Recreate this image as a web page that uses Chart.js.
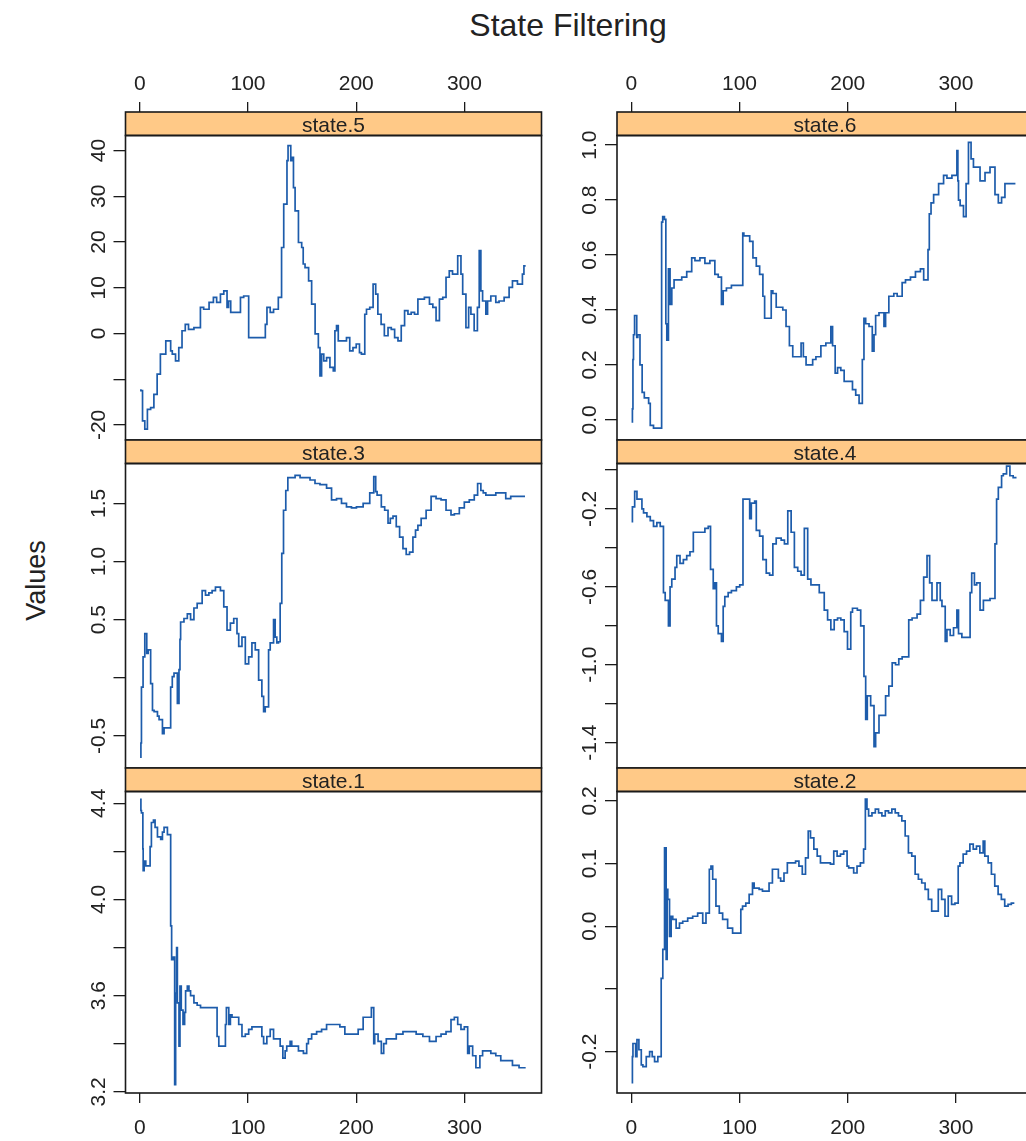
<!DOCTYPE html>
<html>
<head>
<meta charset="utf-8">
<title>State Filtering</title>
<script src="https://cdn.jsdelivr.net/npm/chart.js@4.4.1/dist/chart.umd.min.js"></script>
<style>
  html, body { margin: 0; padding: 0; background: #fff; overflow: hidden; }
  #page { position: relative; width: 1026px; height: 1141px; overflow: hidden; background: #fff;
          font-family: 'Liberation Sans', Arial, sans-serif; color: #222; }
  #page canvas { position: absolute; left: 0; top: 0; }
  #mainTitle { position: absolute; left: 368px; top: 9px; width: 400px; text-align: center;
               font-size: 32px; line-height: 32px; white-space: nowrap; }
  #yTitle { position: absolute; left: -64px; top: 567px; width: 200px; height: 27px; text-align: center;
            font-size: 27px; line-height: 27px; transform: rotate(-90deg); white-space: nowrap; }
</style>
</head>
<body>
<div id="page">
  <div id="mainTitle">State Filtering</div>
  <div id="yTitle">Values</div>
</div>
<script>
// ---- filtered state trajectories: [time index, value] ----
const state5 = [[1,-12.2],[2.5,-12.5],[4.6,-19.1],[7,-20.9],[10,-16.6],[13,-16.2],[16,-13.3],[19,-8.9],[24,-4.5],[28.5,-1.6],[30,-3.8],[33,-4.5],[36,-6.0],[39,-3.1],[42,0.6],[45,2.0],[50,0.9],[56,1.3],[59,5.7],[64,5.3],[68,6.8],[71,7.9],[74.5,6.8],[77.6,8.6],[80.6,9.3],[82,5.7],[84,7.1],[88,4.6],[93,4.6],[96,7.9],[100.6,8.2],[103.6,-0.9],[111,-0.9],[116,-0.9],[117.5,2.0],[120.5,5.7],[123.6,4.6],[128,5.3],[131,7.9],[133,18.8],[136,28.3],[137,37.8],[139.5,41.1],[140.4,37.8],[142,38.5],[143.5,31.9],[146.6,26.8],[149.6,19.9],[151,18.8],[152.7,15.2],[156,14.4],[158.8,11.5],[162,6.4],[165,-0.1],[166.5,-3.1],[168,-9.3],[170,-4.5],[172.6,-6.0],[175.7,-5.3],[178.8,-7.4],[180.3,-8.2],[181.8,0.6],[183.4,1.7],[186.4,-1.6],[191,-1.6],[194,-0.9],[197,-3.8],[200,-3.1],[203,-2.3],[204.8,-4.2],[207.9,-4.5],[209.5,4.2],[212.5,5.3],[215.6,5.7],[218,10.8],[220,8.6],[223,4.2],[226,2.0],[229.4,-0.5],[232.4,1.3],[235.5,0.9],[238.6,-0.9],[241.6,-1.6],[244.7,1.7],[247.8,5.0],[250.8,4.2],[253.9,4.6],[257,4.2],[260,7.5],[263,7.5],[267.7,7.9],[270.8,6.4],[273.8,5.7],[276.9,2.8],[280,7.5],[283,7.9],[286,12.3],[289,13.7],[293.8,13.0],[296.8,17.0],[298.4,13.0],[301.4,8.6],[303.9,1.3],[306,5.7],[309,4.2],[312,0.6],[313.7,5.7],[315.2,18.1],[316.8,9.3],[319.8,7.1],[321.4,4.2],[324.4,7.1],[329,8.2],[332,6.8],[336.7,7.1],[341.3,7.9],[344.4,10.1],[349,11.5],[353.6,10.8],[355,13.0],[356.6,14.8]];

const state6 = [[1,-0.01],[1.5,0.04],[2,0.22],[3,0.31],[5,0.38],[6,0.30],[8,0.31],[10,0.20],[12,0.10],[16,0.08],[17.5,0.06],[20.5,-0.02],[28,-0.03],[29,0.72],[30.6,0.74],[31.9,0.73],[32.8,0.35],[34.3,0.29],[35.8,0.55],[37.4,0.42],[39.5,0.48],[42,0.51],[46.6,0.51],[51.2,0.52],[55.8,0.54],[58.8,0.59],[63.4,0.58],[68,0.59],[72.6,0.57],[77.2,0.58],[80.3,0.53],[83.3,0.52],[84.9,0.42],[87.9,0.47],[92.5,0.48],[97.1,0.49],[103,0.49],[104,0.68],[109.4,0.67],[112.4,0.65],[115.5,0.59],[118.6,0.56],[121.6,0.53],[123.2,0.45],[126.2,0.37],[129.3,0.37],[130.8,0.47],[133.9,0.46],[135.4,0.41],[140,0.41],[143,0.40],[146.1,0.34],[149.2,0.27],[153.8,0.23],[156.9,0.23],[159,0.28],[161.5,0.23],[164.5,0.20],[167.6,0.20],[170.6,0.22],[175.2,0.23],[179.8,0.27],[184.4,0.28],[186,0.34],[188.4,0.27],[190.6,0.17],[193.6,0.19],[196.7,0.18],[199.8,0.14],[204.4,0.14],[207.4,0.11],[210.5,0.09],[213.5,0.06],[215,0.22],[216.6,0.37],[219.7,0.35],[222.7,0.34],[224.3,0.25],[225.8,0.31],[228.9,0.38],[233.5,0.39],[235,0.34],[238,0.39],[242.6,0.45],[245.7,0.46],[250.3,0.45],[253.4,0.50],[258,0.51],[262.6,0.52],[267.2,0.54],[270.2,0.55],[274.2,0.51],[275.4,0.62],[277,0.75],[279.4,0.79],[284,0.82],[288.6,0.86],[291.7,0.89],[296.3,0.88],[300.9,0.89],[301.8,0.98],[302.4,0.87],[303.9,0.80],[307,0.78],[309.4,0.74],[311.6,0.86],[314,1.01],[316.2,0.95],[319.2,0.92],[322.3,0.92],[326.9,0.87],[331.5,0.90],[336.1,0.92],[339.2,0.82],[342.2,0.79],[345.3,0.81],[351.4,0.86],[355,0.86]];

const state3 = [[1,-0.69],[1.5,-0.56],[3,-0.08],[4.6,0.18],[6.4,0.38],[7.7,0.21],[10,0.24],[11.7,-0.05],[13.2,-0.28],[16.3,-0.29],[17.8,-0.33],[20.9,-0.36],[22.4,-0.48],[23.9,-0.43],[28.5,-0.43],[30,-0.08],[31.6,0.01],[34.7,0.04],[36.2,-0.22],[37.1,0.07],[37.7,0.33],[40.8,0.48],[43.9,0.51],[46.9,0.55],[50,0.50],[53,0.60],[57.6,0.64],[60.7,0.75],[63.8,0.71],[66.8,0.73],[69.9,0.75],[74.5,0.78],[77.6,0.75],[80.6,0.61],[83.7,0.41],[86.8,0.47],[89.8,0.51],[91.4,0.38],[94.4,0.27],[97.5,0.35],[100.6,0.12],[103.6,0.18],[106.7,0.30],[109.8,0.24],[112.8,-0.02],[114.4,-0.16],[115.9,-0.29],[119,-0.25],[120.5,0.24],[123.6,0.30],[125.1,0.50],[126.6,0.35],[128.2,0.30],[129.7,0.31],[131.2,0.64],[132.8,1.07],[134.9,1.44],[136.8,1.61],[138.9,1.72],[143.5,1.72],[148.1,1.74],[152.7,1.72],[157.3,1.72],[161.9,1.70],[166.5,1.67],[172.6,1.66],[177.2,1.63],[181.8,1.53],[186.4,1.54],[191,1.50],[195.6,1.47],[200.2,1.46],[206.4,1.47],[212.5,1.50],[216.2,1.59],[218,1.73],[219.3,1.60],[223.2,1.57],[226.3,1.47],[229.4,1.44],[231.5,1.33],[234,1.37],[237,1.39],[240.1,1.30],[243.2,1.21],[246.2,1.11],[249.3,1.06],[252.4,1.08],[254.8,1.21],[257,1.27],[260,1.31],[264.6,1.37],[269.2,1.44],[273.8,1.56],[278.4,1.54],[283,1.53],[287.6,1.44],[290.7,1.40],[295.3,1.41],[299.9,1.46],[304.5,1.51],[309.1,1.53],[312.2,1.57],[315.2,1.67],[317.4,1.61],[319.8,1.59],[324.4,1.57],[329,1.57],[333.6,1.59],[338.2,1.59],[342.8,1.54],[347.4,1.56],[352,1.56],[356,1.56]];

const state4 = [[1,-0.27],[3.1,-0.19],[5.2,-0.11],[6.7,-0.15],[9.8,-0.15],[11.3,-0.20],[14.4,-0.22],[17.5,-0.24],[20.5,-0.26],[23.6,-0.29],[26.7,-0.27],[29.7,-0.29],[31.3,-0.63],[34.3,-0.67],[35.8,-0.80],[37.4,-0.60],[40.4,-0.56],[42,-0.50],[45,-0.44],[48.1,-0.48],[51.2,-0.46],[54.2,-0.44],[57.3,-0.42],[60.4,-0.32],[63.4,-0.32],[68,-0.32],[71.1,-0.30],[73.2,-0.29],[75.7,-0.51],[77.2,-0.61],[78.7,-0.58],[80.3,-0.80],[83.3,-0.84],[84.9,-0.88],[86.4,-0.70],[89.5,-0.65],[92.5,-0.63],[97.1,-0.62],[100.2,-0.60],[103.2,-0.59],[104.8,-0.15],[109.4,-0.15],[110.9,-0.25],[114,-0.17],[115.5,-0.16],[118.6,-0.31],[121.6,-0.34],[124.7,-0.46],[127.8,-0.53],[130.8,-0.54],[133.9,-0.38],[138.5,-0.35],[141.5,-0.36],[144.6,-0.38],[147.7,-0.21],[150.7,-0.32],[153.8,-0.50],[156.9,-0.52],[159.9,-0.54],[163,-0.30],[166,-0.56],[169.1,-0.59],[173.7,-0.59],[178.3,-0.63],[181.4,-0.72],[184.4,-0.77],[187.5,-0.82],[190.6,-0.77],[193.6,-0.76],[196.7,-0.77],[199.8,-0.83],[202.8,-0.92],[204.4,-0.73],[208.9,-0.71],[212,-0.72],[215,-0.80],[216.6,-1.06],[218.1,-1.28],[221.2,-1.16],[224.3,-1.21],[225.8,-1.42],[228.9,-1.35],[231.9,-1.26],[235,-1.26],[238,-1.16],[241.1,-1.11],[244.2,-0.99],[247.2,-1.00],[250.3,-0.97],[253.4,-0.96],[256.4,-0.96],[259.5,-0.77],[264.1,-0.76],[267.2,-0.74],[270.2,-0.67],[273.3,-0.55],[275.7,-0.44],[277.9,-0.58],[279.4,-0.67],[282.5,-0.67],[285.5,-0.58],[287.1,-0.67],[290.1,-0.70],[291.7,-0.88],[294.7,-0.82],[297.8,-0.85],[300.9,-0.81],[302.4,-0.72],[305.5,-0.84],[308.5,-0.86],[313.1,-0.86],[314.6,-0.63],[317.1,-0.53],[319.2,-0.59],[322.3,-0.58],[325.4,-0.72],[326.9,-0.67],[331.5,-0.67],[336.1,-0.66],[337.6,-0.38],[339.2,-0.15],[342.2,-0.09],[343.8,-0.03],[346.8,-0.02],[349.9,0.02],[352.9,-0.03],[356,-0.04]];

const state1 = [[1,4.42],[1.5,4.37],[2.8,4.36],[3.1,4.21],[4,4.12],[5.5,4.16],[7,4.14],[9.5,4.14],[10.7,4.22],[12.6,4.32],[14.1,4.33],[16.3,4.30],[19.3,4.26],[20.9,4.25],[22.4,4.28],[25.5,4.30],[28.5,4.27],[29.4,3.89],[31,3.75],[32.2,3.76],[33.1,3.23],[34,3.61],[34.7,3.80],[36.2,3.57],[37.1,3.39],[38.3,3.64],[39.9,3.54],[41.4,3.48],[42.3,3.53],[43.9,3.62],[45.4,3.64],[46.9,3.62],[50,3.60],[53,3.57],[56.1,3.56],[60.7,3.55],[65.3,3.55],[71.4,3.55],[73,3.43],[75.1,3.39],[79.1,3.39],[80,3.48],[82.2,3.55],[83.7,3.48],[85.2,3.52],[88.3,3.51],[91.4,3.51],[94.4,3.48],[97.5,3.43],[100.6,3.44],[103.6,3.46],[108.2,3.47],[112.8,3.47],[114.4,3.43],[117.4,3.40],[120.5,3.43],[123.6,3.46],[126.6,3.42],[129.7,3.42],[132.2,3.39],[134.3,3.34],[135.8,3.37],[138.9,3.39],[140.4,3.41],[143.5,3.39],[146.6,3.39],[151.2,3.37],[154.2,3.36],[155.8,3.40],[158.8,3.42],[163.4,3.44],[168,3.45],[172.6,3.46],[175.7,3.48],[180.3,3.48],[184.9,3.48],[189.5,3.47],[192.6,3.44],[197.2,3.44],[201.8,3.44],[206.4,3.46],[209.4,3.51],[214,3.51],[216.2,3.55],[217.1,3.40],[220.2,3.44],[223.2,3.41],[225.4,3.36],[227.8,3.40],[232.4,3.42],[237,3.42],[243.2,3.44],[249.3,3.45],[255.4,3.45],[261.6,3.44],[267.7,3.43],[273.8,3.41],[278.4,3.43],[283,3.44],[287.6,3.45],[290.7,3.50],[293.8,3.51],[296.8,3.48],[299.9,3.46],[303,3.47],[304.5,3.36],[307.6,3.39],[310.6,3.35],[314.3,3.30],[316.8,3.35],[319.8,3.37],[324.4,3.37],[329,3.36],[333.6,3.35],[338.2,3.33],[344.4,3.33],[350.5,3.31],[356.6,3.30]];

const state2 = [[1,-0.251],[1.5,-0.208],[4,-0.187],[5.2,-0.208],[7,-0.181],[9.2,-0.197],[10.7,-0.221],[13.8,-0.224],[16.9,-0.208],[19.3,-0.2],[21.5,-0.208],[24.5,-0.216],[27.6,-0.208],[29.1,-0.083],[30.7,-0.037],[32.2,0.125],[33.1,-0.053],[33.7,0.059],[35.3,0.043],[36.8,-0.016],[38.3,0.016],[41.4,0.011],[44.5,-0.003],[47.5,0.005],[52.1,0.008],[56.7,0.013],[61.3,0.016],[66,0.021],[69,0.005],[72.1,0.021],[73.6,0.091],[75.2,0.096],[78.2,0.075],[81.3,0.032],[84.4,0.021],[89,0.011],[93.6,-0.003],[98.2,-0.011],[101.2,-0.011],[102.8,0.027],[105.8,0.032],[108.9,0.037],[112,0.051],[113.5,0.069],[118.1,0.061],[121.2,0.059],[124.2,0.056],[127.3,0.056],[130.4,0.069],[133.4,0.091],[135.9,0.091],[138,0.077],[141.1,0.072],[144.2,0.085],[147.2,0.101],[151.8,0.101],[154.9,0.104],[158,0.096],[161,0.083],[163.5,0.109],[165.6,0.152],[168.7,0.141],[171.8,0.123],[174.8,0.112],[179.4,0.101],[184,0.101],[187.1,0.099],[190.2,0.12],[193.3,0.112],[196.3,0.115],[199.4,0.12],[200.9,0.096],[205.5,0.093],[208.6,0.085],[211.7,0.096],[214.7,0.101],[216.3,0.123],[217.8,0.203],[219.3,0.187],[222.4,0.176],[225.5,0.181],[228.5,0.187],[231.6,0.181],[234.7,0.176],[237.7,0.184],[240.8,0.181],[243.9,0.187],[246.9,0.181],[250,0.176],[253.1,0.168],[256.1,0.144],[259.2,0.117],[262.3,0.112],[265.3,0.083],[268.4,0.075],[271.5,0.069],[274.5,0.059],[277.6,0.043],[280.7,0.024],[283.7,0.024],[286.8,0.059],[289.9,0.043],[292.9,0.016],[296,0.048],[299.1,0.035],[302.1,0.037],[303.7,0.096],[306.7,0.101],[309.8,0.115],[312.9,0.12],[316,0.131],[319,0.123],[322.1,0.128],[325.2,0.117],[326.7,0.136],[329.8,0.112],[332.8,0.101],[335.9,0.083],[339,0.064],[342,0.051],[345.1,0.043],[348.2,0.032],[351.2,0.035],[354,0.037]];

// ---- panel names, axis ranges and tick labels ----
const panelNames = ['state.5', 'state.6', 'state.3', 'state.4', 'state.1', 'state.2'];
const panelSeries = [state5, state6, state3, state4, state1, state2];
const xRange = [-13.24, 371.24];
const xTicks = [0, 100, 200, 300];
const yRanges = [[-23.3, 43.3], [-0.073, 1.035], [-0.775, 1.842], [-1.53, 0.033], [3.195, 4.449], [-0.266, 0.215]];
const yTicks = [
  [-20, -10, 0, 10, 20, 30, 40],
  [0, 0.2, 0.4, 0.6, 0.8, 1.0],
  [-0.5, 0, 0.5, 1.0, 1.5],
  [-1.4, -1.2, -1.0, -0.8, -0.6, -0.4, -0.2, 0],
  [3.2, 3.4, 3.6, 3.8, 4.0, 4.2, 4.4],
  [-0.2, -0.1, 0, 0.1, 0.2]
];
const yTickLabels = [
  ['-20', '', '0', '10', '20', '30', '40'],
  ['0.0', '0.2', '0.4', '0.6', '0.8', '1.0'],
  ['-0.5', '', '0.5', '1.0', '1.5'],
  ['-1.4', '', '-1.0', '', '-0.6', '', '-0.2', ''],
  ['3.2', '', '3.6', '', '4.0', '', '4.4'],
  ['-0.2', '', '0.0', '0.1', '0.2']
];

// ---- look and layout ----
const FONT = "'Liberation Sans', Arial, sans-serif";
const TEXT = '#222';
const FRAME = '#1a1a1a';
const LINE = '#1d5cab';
const STRIP_FILL = '#ffc987';
const STRIP_H = 23.5;
const CANVAS_W = 1040, CANVAS_H = 1141;
const colBox = [{ L: 125.5, R: 541.5 }, { L: 617, R: 1033 }];
const rowBox = [{ T: 135.5, B: 440 }, { T: 463.5, B: 768 }, { T: 791.5, B: 1093 }];

Chart.defaults.font.family = FONT;
Chart.defaults.color = TEXT;

// strip, frame and rotated y labels for one lattice panel
const panelDeco = {
  id: 'panelDeco',
  afterDraw(chart, args, opts) {
    const { ctx, chartArea: a } = chart;
    const ys = chart.scales.y;
    const w = a.right - a.left;
    ctx.save();
    ctx.fillStyle = STRIP_FILL;
    ctx.fillRect(a.left, a.top - STRIP_H, w, STRIP_H);
    ctx.strokeStyle = FRAME;
    ctx.lineWidth = 1.6;
    ctx.strokeRect(a.left, a.top - STRIP_H, w, STRIP_H);
    ctx.strokeRect(a.left, a.top, w, a.bottom - a.top);
    ctx.fillStyle = TEXT;
    ctx.font = '21px ' + FONT;
    ctx.textAlign = 'center';
    ctx.textBaseline = 'alphabetic';
    ctx.fillText(opts.name, (a.left + a.right) / 2, a.top - 3.5);
    ys.ticks.forEach((t, i) => {
      const txt = opts.labels[i];
      if (!txt) return;
      const py = ys.getPixelForValue(t.value);
      ctx.save();
      ctx.translate(a.left - 21, py);
      ctx.rotate(-Math.PI / 2);
      ctx.fillText(txt, 0, 0);
      ctx.restore();
    });
    ctx.restore();
  }
};

const page = document.getElementById('page');

panelSeries.forEach((series, p) => {
  const row = Math.floor(p / 2), col = p % 2;
  const { L, R } = colBox[col];
  const { T, B } = rowBox[row];
  const xPos = row === 0 ? 'top' : 'bottom';
  const showX = row !== 1;
  const xBand = row === 0 ? T : (row === 2 ? CANVAS_H - B : 0);

  const canvas = document.createElement('canvas');
  canvas.width = CANVAS_W;
  canvas.height = CANVAS_H;
  canvas.style.width = CANVAS_W + 'px';
  canvas.style.height = CANVAS_H + 'px';
  page.appendChild(canvas);

  new Chart(canvas, {
    type: 'line',
    data: {
      datasets: [{
        label: panelNames[p],
        data: series.map(([x, y]) => ({ x, y })),
        borderColor: LINE,
        borderWidth: 1.7,
        pointRadius: 0,
        stepped: 'after',
        fill: false
      }]
    },
    options: {
      responsive: false,
      devicePixelRatio: 1,
      animation: false,
      events: [],
      layout: {
        padding: {
          left: L - 12,
          right: CANVAS_W - R,
          top: row === 0 ? 0 : T,
          bottom: row === 2 ? 0 : CANVAS_H - B
        }
      },
      plugins: {
        legend: { display: false },
        tooltip: { enabled: false },
        panelDeco: { name: panelNames[p], labels: yTickLabels[p] }
      },
      scales: {
        x: {
          type: 'linear',
          position: xPos,
          display: showX,
          min: xRange[0],
          max: xRange[1],
          afterBuildTicks: s => { s.ticks = xTicks.map(v => ({ value: v })); },
          afterFit: s => { s.height = xBand; },
          border: { display: false },
          grid: {
            drawOnChartArea: false,
            drawTicks: true,
            tickLength: row === 0 ? STRIP_H + 10 : 10,
            color: FRAME,
            lineWidth: 1.3
          },
          ticks: {
            autoSkip: false,
            maxRotation: 0,
            minRotation: 0,
            padding: row === 0 ? 5 : 13,
            color: TEXT,
            font: { size: 21, family: FONT },
            callback: v => String(v)
          }
        },
        y: {
          type: 'linear',
          position: 'left',
          min: yRanges[p][0],
          max: yRanges[p][1],
          afterBuildTicks: s => { s.ticks = yTicks[p].map(v => ({ value: v })); },
          afterFit: s => { s.width = 12; },
          border: { display: false },
          grid: {
            drawOnChartArea: false,
            drawTicks: true,
            tickLength: 12,
            color: FRAME,
            lineWidth: 1.3
          },
          ticks: { display: false }
        }
      }
    },
    plugins: [panelDeco]
  });
});
</script>
</body>
</html>
